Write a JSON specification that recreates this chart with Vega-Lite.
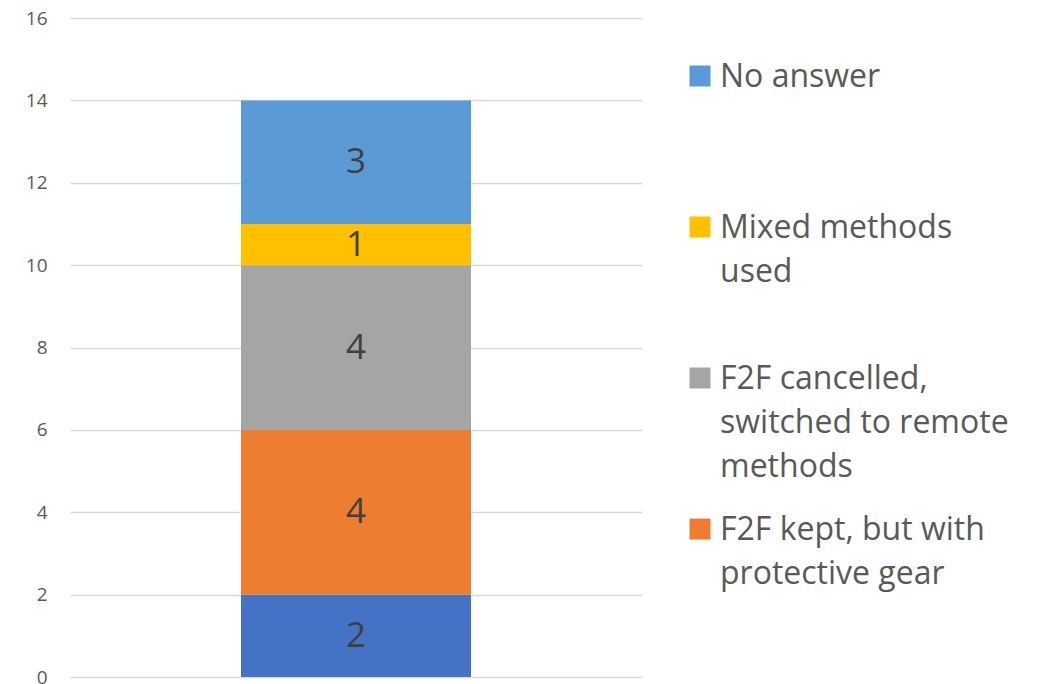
{
  "$schema": "https://vega.github.io/schema/vega-lite/v6.json",
  "padding": {"left": 25, "top": 9, "right": 0, "bottom": 0},
  "background": "white",
  "config": {
    "view": {"stroke": null},
    "font": "Open Sans",
    "concat": {"spacing": 47},
    "axis": {"labelFontSize": 19, "labelColor": "#595959", "labelFont": "Open Sans"}
  },
  "datasets": {
    "bars": [
      {"group": "All", "series": "F2F kept as usual", "value": 2, "k": 1},
      {"group": "All", "series": "F2F kept, but with protective gear", "value": 4, "k": 2},
      {"group": "All", "series": "F2F cancelled, switched to remote methods", "value": 4, "k": 3},
      {"group": "All", "series": "Mixed methods used", "value": 1, "k": 4},
      {"group": "All", "series": "No answer", "value": 3, "k": 5}
    ],
    "legend": [
      {"series": "No answer", "label": "No answer"},
      {"series": "Mixed methods used", "label": "Mixed methods\nused"},
      {"series": "F2F cancelled, switched to remote methods", "label": "F2F cancelled,\nswitched to remote\nmethods"},
      {"series": "F2F kept, but with protective gear", "label": "F2F kept, but with\nprotective gear"}
    ]
  },
  "resolve": {"scale": {"x": "independent", "y": "independent"}},
  "hconcat": [
    {
      "width": 572,
      "height": 659,
      "data": {"name": "bars"},
      "encoding": {
        "x": {
          "field": "group",
          "type": "nominal",
          "axis": null,
          "scale": {"paddingInner": 0, "paddingOuter": 0.7435}
        }
      },
      "layer": [
        {
          "mark": {"type": "bar"},
          "encoding": {
            "y": {
              "field": "value",
              "type": "quantitative",
              "stack": "zero",
              "scale": {"domain": [0, 16], "nice": false},
              "axis": {
                "title": null,
                "values": [0, 2, 4, 6, 8, 10, 12, 14, 16],
                "domain": false,
                "ticks": false,
                "grid": true,
                "gridColor": "#d9d9d9",
                "gridWidth": 1.3,
                "labelFontSize": 19,
                "labelColor": "#595959",
                "labelPadding": 23,
                "labelFont": "Open Sans"
              }
            },
            "color": {
              "field": "series",
              "type": "nominal",
              "scale": {
                "domain": ["F2F kept as usual", "F2F kept, but with protective gear", "F2F cancelled, switched to remote methods", "Mixed methods used", "No answer"],
                "range": ["#4472C4", "#ED7D31", "#A5A5A5", "#FFC000", "#5B9BD5"]
              },
              "legend": null
            },
            "order": {"field": "k", "type": "quantitative"}
          }
        },
        {
          "mark": {"type": "text", "fontSize": 35, "color": "#404040", "baseline": "middle", "align": "center"},
          "encoding": {
            "y": {"field": "value", "type": "quantitative", "stack": "zero", "bandPosition": 0.5},
            "detail": {"field": "series", "type": "nominal"},
            "text": {"field": "value", "type": "quantitative"},
            "order": {"field": "k", "type": "quantitative"}
          }
        }
      ]
    },
    {
      "width": 335,
      "height": 659,
      "data": {"name": "legend"},
      "encoding": {
        "y": {
          "field": "series",
          "type": "nominal",
          "axis": null,
          "scale": {
            "type": "point",
            "domain": ["No answer", "Mixed methods used", "F2F cancelled, switched to remote methods", "F2F kept, but with protective gear"],
            "padding": 0.682,
            "align": 0.2816
          }
        },
        "x": {"datum": 0, "type": "quantitative", "scale": {"domain": [0, 1]}, "axis": null}
      },
      "layer": [
        {
          "mark": {"type": "point", "shape": "square", "filled": true, "size": 441, "opacity": 1},
          "encoding": {
            "color": {
              "field": "series",
              "type": "nominal",
              "scale": {
                "domain": ["F2F kept as usual", "F2F kept, but with protective gear", "F2F cancelled, switched to remote methods", "Mixed methods used", "No answer"],
                "range": ["#4472C4", "#ED7D31", "#A5A5A5", "#FFC000", "#5B9BD5"]
              },
              "legend": null
            }
          }
        },
        {
          "mark": {"type": "text", "align": "left", "baseline": "alphabetic", "dx": 20, "dy": 11, "fontSize": 32, "lineHeight": 44, "lineBreak": "\n", "color": "#595959"},
          "encoding": {
            "text": {"field": "label", "type": "nominal"}
          }
        }
      ]
    }
  ]
}
